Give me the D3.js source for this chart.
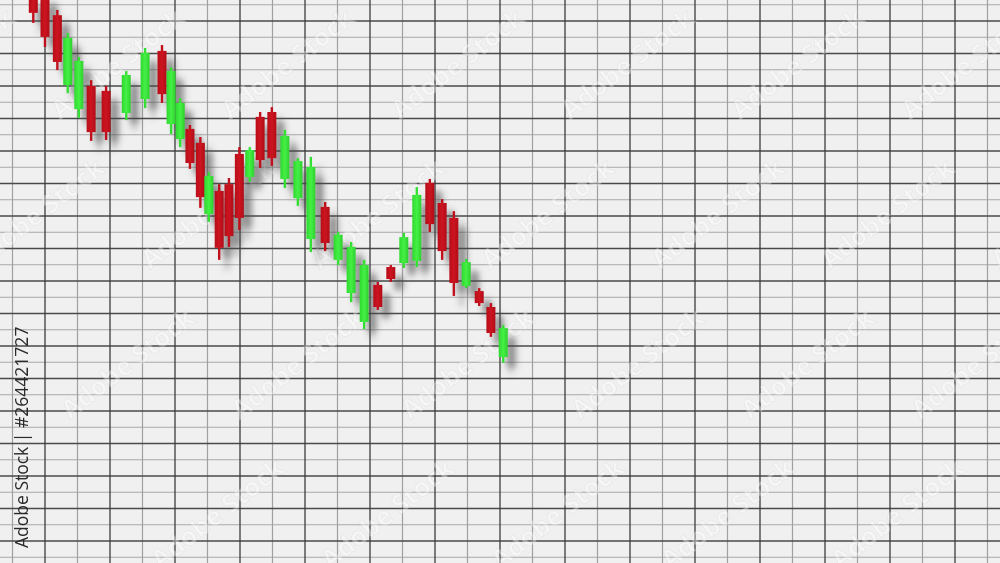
<!DOCTYPE html>
<html><head><meta charset="utf-8">
<script src="https://cdn.jsdelivr.net/npm/d3@7/dist/d3.min.js"></script>
<style>html,body{margin:0;padding:0;background:#f0f0f0;overflow:hidden}</style>
</head><body>
<svg id="c" width="1000" height="563"></svg>
<script>
// time position of each candle (trading-session units)
const times = [3.2,5.0,6.9,8.5,10.2,12.1,14.4,17.5,20.4,23.0,24.4,25.8,27.3,28.9,30.2,31.8,33.3,34.9,36.5,38.1,39.9,41.9,43.9,45.9,48.1,50.1,52.1,54.1,56.2,58.2,60.2,62.2,64.2,66.1,67.9,69.8,71.8,73.6,75.5];
const opens  = [207.5,208.0,201.8,180.3,172.9,180.0,178.5,171.7,176.0,190.8,168.3,163.7,166.8,162.5,140.6,147.7,149.8,159.1,152.0,170.5,172.0,151.4,145.5,132.9,142.8,126.5,116.3,107.4,118.8,124.3,125.5,126.2,150.2,144.0,139.4,118.5,116.9,112.0,96.6];
const highs  = [208.5,209.0,203.4,196.3,188.9,181.8,180.0,184.6,191.7,192.6,185.8,176.3,168.0,164.3,153.5,149.8,151.7,161.2,161.2,172.0,173.5,166.5,157.8,158.2,144.3,135.1,132.0,126.5,119.7,124.9,134.8,148.9,151.4,145.2,141.5,126.8,117.8,113.2,106.5];
const lows   = [199.4,192.0,184.9,177.8,170.2,163.1,163.4,169.5,173.2,174.8,165.2,161.2,154.5,142.5,138.2,126.5,130.5,135.7,150.5,154.8,155.4,148.6,143.1,128.9,129.2,124.9,113.5,105.2,111.1,119.7,124.0,124.3,135.1,126.5,115.4,117.8,112.3,102.8,94.8];
const closes = [202.5,195.1,187.4,194.8,187.7,165.8,165.8,183.4,190.2,177.5,184.6,174.8,156.3,145.8,152.3,130.2,133.8,139.4,160.3,157.2,157.8,164.6,156.9,155.1,131.7,134.2,130.5,124.9,112.0,120.6,133.5,146.5,137.5,129.2,119.4,125.8,113.2,104.0,105.5];
const watermark = "Adobe Stock | #264421727";
const stockMark = "Adobe Stock";

const W = 1000, H = 563;
const svg = d3.select("#c");

const x = d3.scaleLinear().domain([0, 10]).range([12.5, 77.5]);
const y = d3.scaleLinear().domain([200, 190]).range([21, 53.5]);

const defs = svg.append("defs");
const f = defs.append("filter").attr("id","sh").attr("x","-100%").attr("y","-50%").attr("width","400%").attr("height","200%");
f.append("feGaussianBlur").attr("in","SourceAlpha").attr("stdDeviation",3).attr("result","b");
f.append("feOffset").attr("in","b").attr("dx",8).attr("dy",10).attr("result","o");
f.append("feFlood").attr("flood-color","#4a4a4a").attr("flood-opacity",0.6).attr("result","c");
f.append("feComposite").attr("in","c").attr("in2","o").attr("operator","in");

const gr = defs.append("linearGradient").attr("id","gRed").attr("x1",0).attr("x2",1).attr("y1",0).attr("y2",0);
gr.append("stop").attr("offset","0%").attr("stop-color","#b80d18");
gr.append("stop").attr("offset","50%").attr("stop-color","#cc1521");
gr.append("stop").attr("offset","100%").attr("stop-color","#b10c16");
const gg = defs.append("linearGradient").attr("id","gGreen").attr("x1",0).attr("x2",1).attr("y1",0).attr("y2",0);
gg.append("stop").attr("offset","0%").attr("stop-color","#2fd82f");
gg.append("stop").attr("offset","50%").attr("stop-color","#45f045");
gg.append("stop").attr("offset","100%").attr("stop-color","#2ed02e");

svg.append("rect").attr("width",W).attr("height",H).attr("fill","#f0f0f0");

// grid
const xMin = x.invert(0), xMax = x.invert(W);
const yTop = y.invert(0), yBot = y.invert(H);
const grid = svg.append("g");
const xLight = d3.range(Math.ceil(xMin/10)*10, xMax, 10);
const xDark = d3.range(Math.ceil((xMin-5)/10)*10+5, xMax, 10);
const yDark = d3.range(Math.floor(yTop/10)*10, yBot, -10);
const yLight = d3.range(Math.floor((yTop-5)/10)*10+5, yBot, -10);
grid.selectAll(".yl").data(yLight).join("line").attr("x1",0).attr("x2",W)
  .attr("y1",d=>y(d)).attr("y2",d=>y(d)).attr("stroke","#a8a8a8").attr("stroke-width",1.2);
grid.selectAll(".xl").data(xLight).join("line").attr("y1",0).attr("y2",H)
  .attr("x1",d=>x(d)).attr("x2",d=>x(d)).attr("stroke","#a0a0a0").attr("stroke-width",1.2);
grid.selectAll(".yd").data(yDark).join("line").attr("x1",0).attr("x2",W)
  .attr("y1",d=>y(d)).attr("y2",d=>y(d)).attr("stroke","#4a4a4a").attr("stroke-width",1.4);
grid.selectAll(".xd").data(xDark).join("line").attr("y1",0).attr("y2",H)
  .attr("x1",d=>x(d)).attr("x2",d=>x(d)).attr("stroke","#3c3c3c").attr("stroke-width",1.3);

// faint tiled watermarks
const wmPos = d3.cross(d3.range(-1, 6), d3.range(-1, 4));
svg.append("g").attr("opacity",0.38).selectAll("text").data(wmPos).join("text")
  .attr("transform", d => `translate(${60 + d[0]*170 + d[1]*90},${120 + d[1]*150}) rotate(-38)`)
  .attr("font-family","Open Sans, sans-serif").attr("font-size",26).attr("font-weight",700)
  .attr("fill","#ffffff").attr("stroke","#dcdcdc").attr("stroke-width",0.8)
  .text(stockMark);

const data = times.map((t,i)=>({t, o:opens[i], h:highs[i], l:lows[i], c:closes[i]}));
const bw = 9;

function drawCandles(g){
  const c = g.selectAll("g").data(data).join("g");
  c.append("line").attr("x1",d=>x(d.t)).attr("x2",d=>x(d.t))
    .attr("y1",d=>y(d.h)).attr("y2",d=>y(d.l))
    .attr("stroke",d=>d.c>=d.o?"#35e035":"#c0101b").attr("stroke-width",2.4);
  c.append("rect").attr("x",d=>x(d.t)-bw/2).attr("width",bw)
    .attr("y",d=>y(Math.max(d.o,d.c))).attr("height",d=>Math.max(2,Math.abs(y(d.o)-y(d.c))))
    .attr("fill",d=>d.c>=d.o?"url(#gGreen)":"url(#gRed)");
}
drawCandles(svg.append("g").attr("filter","url(#sh)"));
drawCandles(svg.append("g"));

svg.append("text").attr("transform","translate(28,548) rotate(-90)")
  .attr("font-family","Open Sans, sans-serif").attr("font-size",17.5).attr("fill","#2a2a2a")
  .text(watermark);
</script>
</body></html>
